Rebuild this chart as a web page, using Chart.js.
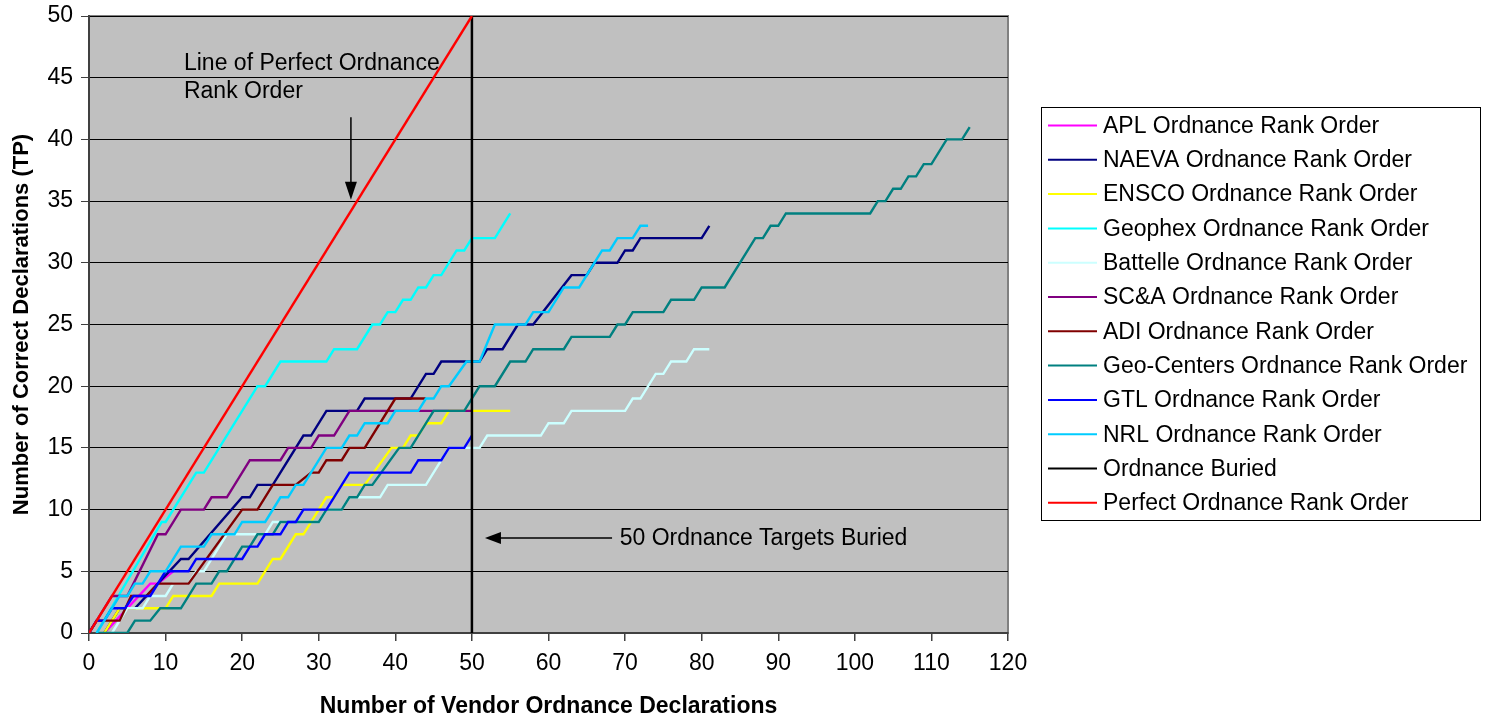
<!DOCTYPE html>
<html>
<head>
<meta charset="utf-8">
<script src="https://cdn.jsdelivr.net/npm/chart.js@4.4.0/dist/chart.umd.min.js"></script>
<style>
  html, body { margin: 0; padding: 0; background: #fff; }
</style>
</head>
<body>
<canvas id="chart1" width="1487" height="720"></canvas>
<script>
// corner points of each rank order curve (x = vendor declarations, y = correct declarations)
const aplX = [2, 8, 9, 11]
const aplY = [0, 4, 4, 5]

const naevaX = [2, 4, 6, 12, 13, 20, 21, 22, 24, 28, 29, 31, 35, 36, 42, 44, 45, 46, 51, 52, 54, 56, 58, 63, 65, 66, 69, 70, 71, 72, 80, 81]
const naevaY = [0, 2, 2, 6, 6, 11, 11, 12, 12, 16, 16, 18, 18, 19, 19, 21, 21, 22, 22, 23, 23, 25, 25, 29, 29, 30, 30, 31, 31, 32, 32, 33]

const enscoX = [2, 4, 10, 11, 16, 17, 22, 24, 25, 27, 28, 30, 31, 32, 33, 36, 39.5, 41, 42, 43, 44, 46, 47, 55]
const enscoY = [0, 2, 2, 3, 3, 4, 4, 6, 6, 8, 8, 10, 11, 11, 12, 12, 15, 15, 16, 16, 17, 17, 18, 18]

const geophexX = [1, 9.5, 10, 14, 15, 22, 23, 25, 31, 32, 35, 37, 38, 39, 40, 41, 42, 43, 44, 45, 46, 48, 49, 50, 53, 55]
const geophexY = [0, 9, 9, 13, 13, 20, 20, 22, 22, 23, 23, 25, 25, 26, 26, 27, 27, 28, 28, 29, 29, 31, 31, 32, 32, 34]

const battelleX = [3, 5, 7, 8, 10, 11, 13, 14, 15, 18, 23, 24, 30, 31, 33, 34, 38, 39, 44, 46, 47, 51, 52, 59, 60, 62, 63, 70, 71, 72, 74, 75, 76, 78, 79, 81]
const battelleY = [0, 2, 2, 3, 3, 4, 4, 5, 5, 8, 8, 9, 9, 10, 10, 11, 11, 12, 12, 14, 15, 15, 16, 16, 17, 17, 18, 18, 19, 19, 21, 21, 22, 22, 23, 23]

const scaX = [0, 3, 5, 9, 10, 12, 15, 16, 18, 21, 25, 26, 29, 30, 32, 34, 50]
const scaY = [0, 3, 3, 8, 8, 10, 10, 11, 11, 14, 14, 15, 15, 16, 16, 18, 18]

const adiX = [0, 1, 4, 5.5, 7.5, 9, 13, 20, 22, 24, 27, 29, 30, 31, 33, 34, 36, 40, 44]
const adiY = [0, 1, 1, 3, 3, 4, 4, 10, 10, 12, 12, 13, 13, 14, 14, 15, 15, 19, 19]

const geoCentersX = [1, 5, 6, 8, 9.3, 12, 14, 16, 17, 18, 20, 21, 22, 24, 25, 30, 31, 33, 34, 35, 36, 37, 40.5, 42, 45, 49, 51, 53, 55, 57, 58, 62, 63, 68, 69, 70, 71, 75, 76, 79, 80, 83, 87, 88, 89, 90, 91, 102, 103, 104, 105, 106, 107, 108, 109, 110, 112, 114, 115]
const geoCentersY = [0, 0, 1, 1, 2, 2, 4, 4, 5, 5, 7, 7, 8, 8, 9, 9, 10, 10, 11, 11, 12, 12, 15, 15, 18, 18, 20, 20, 22, 22, 23, 23, 24, 24, 25, 25, 26, 26, 27, 27, 28, 28, 32, 32, 33, 33, 34, 34, 35, 35, 36, 36, 37, 37, 38, 38, 40, 40, 41]

const gtlX = [0, 1, 2, 3, 4.7, 5.8, 8, 10, 13, 14, 20, 21, 22, 23, 25, 26, 27, 28, 31, 34, 42, 43, 46, 47, 49, 50]
const gtlY = [0, 1, 1, 2, 2, 3, 3, 5, 5, 6, 6, 7, 7, 8, 8, 9, 9, 10, 10, 13, 13, 14, 14, 15, 15, 16]

const nrlX = [1, 4, 5, 6, 7, 8, 10, 12, 15, 16, 19, 20, 23, 25, 26, 27, 28, 31, 33, 34, 35, 36, 39, 40, 43, 44, 45, 46, 47, 49.3, 51, 53, 57, 58, 60, 62, 64, 67, 68, 69, 71, 72, 73]
const nrlY = [0, 3, 3, 4, 4, 5, 5, 7, 7, 8, 8, 9, 9, 11, 11, 12, 12, 15, 15, 16, 16, 17, 17, 18, 18, 19, 19, 20, 20, 22, 22, 25, 25, 26, 26, 28, 28, 31, 31, 32, 32, 33, 33]

const buriedX = [50, 50]
const buriedY = [0, 50]

const perfectX = [0, 50]
const perfectY = [0, 50]

const seriesNames = [
    'APL Ordnance Rank Order', 'NAEVA Ordnance Rank Order', 'ENSCO Ordnance Rank Order',
    'Geophex Ordnance Rank Order', 'Battelle Ordnance Rank Order', 'SC&A Ordnance Rank Order',
    'ADI Ordnance Rank Order', 'Geo-Centers Ordnance Rank Order', 'GTL Ordnance Rank Order',
    'NRL Ordnance Rank Order', 'Ordnance Buried', 'Perfect Ordnance Rank Order'
]
const seriesX = [aplX, naevaX, enscoX, geophexX, battelleX, scaX, adiX, geoCentersX, gtlX, nrlX, buriedX, perfectX]
const seriesY = [aplY, naevaY, enscoY, geophexY, battelleY, scaY, adiY, geoCentersY, gtlY, nrlY, buriedY, perfectY]
const seriesColors = ['#ff00ff', '#000080', '#ffff00', '#00ffff', '#ccffff', '#800080',
    '#800000', '#008080', '#0000ff', '#00ccff', '#000000', '#ff0000']

const FONT = '"Liberation Sans", Arial, sans-serif'

const datasets = seriesNames.map((name, i) => ({
    label: name,
    data: seriesX[i].map((x, j) => ({ x: x, y: seriesY[i][j] })),
    borderColor: seriesColors[i],
    backgroundColor: seriesColors[i],
    borderWidth: i === 10 ? 2.5 : 2.4,
    showLine: true,
    pointRadius: 0,
    tension: 0,
    order: seriesNames.length - 1 - i   // excel draws the first series at the bottom
}))

// grey plot area with a thin frame
const backdrop = {
    id: 'backdrop',
    beforeDraw(chart) {
        const { ctx, chartArea: a } = chart
        ctx.save()
        ctx.fillStyle = '#c0c0c0'
        ctx.fillRect(a.left, a.top, a.right - a.left, a.bottom - a.top)
        ctx.strokeStyle = '#808080'
        ctx.lineWidth = 2
        ctx.strokeRect(a.left, a.top, a.right - a.left, a.bottom - a.top)
        ctx.restore()
    }
}

function arrowHead(ctx, tipX, tipY, dir) {
    // dir: 'down' or 'left'
    ctx.beginPath()
    if (dir === 'down') {
        ctx.moveTo(tipX, tipY)
        ctx.lineTo(tipX - 6, tipY - 18)
        ctx.lineTo(tipX + 6, tipY - 18)
    } else {
        ctx.moveTo(tipX, tipY)
        ctx.lineTo(tipX + 16, tipY - 6)
        ctx.lineTo(tipX + 16, tipY + 6)
    }
    ctx.closePath()
    ctx.fill()
}

// text notes, arrows and the boxed legend
const notes = {
    id: 'notes',
    afterDraw(chart) {
        const { ctx } = chart
        const xs = chart.scales.x
        const ys = chart.scales.y
        ctx.save()
        ctx.fillStyle = '#000'
        ctx.strokeStyle = '#000'
        ctx.font = '23px ' + FONT
        ctx.textBaseline = 'alphabetic'
        ctx.textAlign = 'left'

        const tx = xs.getPixelForValue(12.4)
        const ty = ys.getPixelForValue(45.6)
        ctx.fillText('Line of Perfect Ordnance', tx, ty)
        ctx.fillText('Rank Order', tx, ty + 27.6)

        // arrow down onto the perfect line
        const ax = xs.getPixelForValue(34.2)
        ctx.lineWidth = 1.5
        ctx.beginPath()
        ctx.moveTo(ax, ys.getPixelForValue(41.8))
        ctx.lineTo(ax, ys.getPixelForValue(35.1) - 14)
        ctx.stroke()
        arrowHead(ctx, ax, ys.getPixelForValue(35.1), 'down')

        // arrow left onto the 50 targets line
        const by = ys.getPixelForValue(7.7)
        ctx.beginPath()
        ctx.moveTo(xs.getPixelForValue(68.3), by)
        ctx.lineTo(xs.getPixelForValue(51.7) + 12, by)
        ctx.stroke()
        arrowHead(ctx, xs.getPixelForValue(51.7), by, 'left')
        ctx.textBaseline = 'middle'
        ctx.fillText('50 Ordnance Targets Buried', xs.getPixelForValue(69.3), by + 1)

        // legend box
        const lx = 1041, ly = 107, lw = 439, lh = 413
        ctx.fillStyle = '#fff'
        ctx.fillRect(lx, ly, lw, lh)
        ctx.strokeStyle = '#000'
        ctx.lineWidth = 1
        ctx.strokeRect(lx + 0.5, ly + 0.5, lw, lh)
        chart.data.datasets.forEach((ds, i) => {
            const rowY = 125.5 + i * 34.3
            ctx.strokeStyle = ds.borderColor
            ctx.lineWidth = 2
            ctx.beginPath()
            ctx.moveTo(1048, rowY)
            ctx.lineTo(1097, rowY)
            ctx.stroke()
            ctx.fillStyle = '#000'
            ctx.fillText(ds.label, 1103, rowY + 1)
        })
        ctx.restore()
    }
}

const ctx1 = document.querySelector('#chart1').getContext('2d')
const chart1 = new Chart(ctx1, {
    type: 'scatter',
    data: { datasets: datasets },
    plugins: [backdrop, notes],
    options: {
        responsive: false,
        animation: false,
        layout: { padding: { left: 0, top: 16, right: 479, bottom: 0 } },
        plugins: {
            legend: { display: false },
            tooltip: { enabled: false }
        },
        scales: {
            x: {
                type: 'linear',
                min: 0,
                max: 120,
                afterFit: (scale) => { scale.height = 87 },
                ticks: { stepSize: 10, color: '#000', padding: 9, font: { family: FONT, size: 23 }, maxRotation: 0 },
                grid: { drawOnChartArea: false, drawTicks: true, tickLength: 8, tickColor: '#404040', lineWidth: 1.5 },
                border: { display: true, color: '#404040', width: 2 },
                title: {
                    display: true,
                    text: 'Number of Vendor Ordnance Declarations',
                    color: '#000',
                    font: { family: FONT, size: 23, weight: 'bold' },
                    padding: { top: 0, bottom: 0 }
                }
            },
            y: {
                type: 'linear',
                min: 0,
                max: 50,
                afterFit: (scale) => {
                    scale.width = 89
                    // let the layout padding decide the top edge of the plot
                    scale.paddingTop = 0
                    scale.paddingBottom = 0
                },
                ticks: { stepSize: 5, autoSkip: false, color: '#000', padding: 8, font: { family: FONT, size: 23 } },
                grid: { color: '#000', lineWidth: 1, drawTicks: true, tickLength: 8, tickColor: '#404040' },
                border: { display: true, color: '#404040', width: 2 },
                title: {
                    display: true,
                    text: 'Number of Correct Declarations (TP)',
                    color: '#000',
                    font: { family: FONT, size: 22, weight: 'bold' },
                    padding: { top: 9, bottom: 0 }
                }
            }
        }
    }
})
</script>
</body>
</html>
